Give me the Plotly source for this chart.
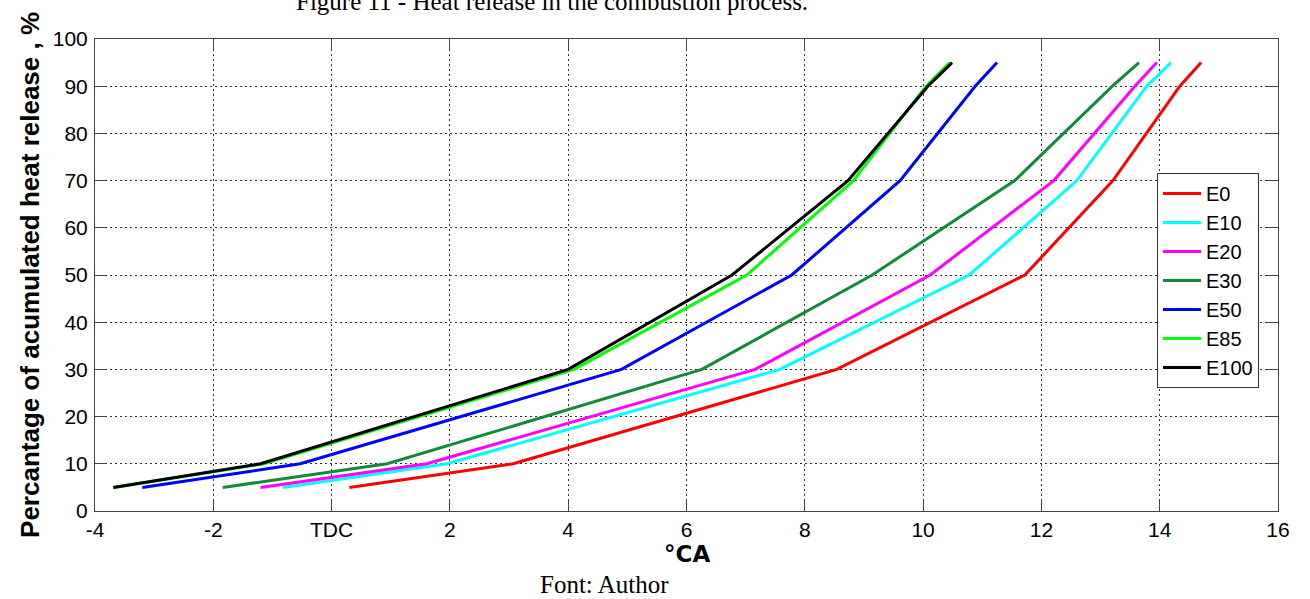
import plotly.graph_objects as go

# Accumulated heat release levels (%) and crank angle (°CA) at each level
heat_release_pct = [5, 10, 30, 50, 70, 90, 95]

e0 = [0.30, 3.07, 8.54, 11.72, 13.21, 14.34, 14.70]
e10 = [-0.82, 1.95, 7.58, 10.78, 12.60, 13.78, 14.19]
e20 = [-1.20, 1.61, 7.16, 10.12, 12.21, 13.58, 13.95]
e30 = [-1.84, 0.94, 6.26, 9.14, 11.55, 13.20, 13.65]
e50 = [-3.20, -0.53, 4.90, 7.78, 9.61, 10.88, 11.25]
e85 = [-3.69, -1.15, 4.10, 7.02, 8.82, 10.05, 10.45]
e100 = [-3.69, -1.20, 4.00, 6.77, 8.73, 10.08, 10.49]

fuel_names = ["E0", "E10", "E20", "E30", "E50", "E85", "E100"]
fuel_series = [e0, e10, e20, e30, e50, e85, e100]
fuel_colors = ["#ff0000", "#00ffff", "#ff00ff", "#138a3a", "#0000ff", "#00ff00", "#000000"]

x_tick_vals = [-4, -2, 0, 2, 4, 6, 8, 10, 12, 14, 16]
x_tick_text = ["-4", "-2", "TDC", "2", "4", "6", "8", "10", "12", "14", "16"]
y_tick_vals = [0, 10, 20, 30, 40, 50, 60, 70, 80, 90, 100]

WIDE_SANS = "DejaVu Sans, Verdana, sans-serif"
SANS = "Liberation Sans, Arial, sans-serif"
SERIF = "Liberation Serif, Times New Roman, serif"

fig = go.Figure()
for name, xs, color in zip(fuel_names, fuel_series, fuel_colors):
    fig.add_trace(go.Scatter(
        x=xs, y=heat_release_pct, mode="lines", name=name,
        line=dict(color=color, width=3),
    ))

axis_common = dict(
    showline=True, linecolor="#444444", linewidth=1, mirror="ticks",
    ticks="inside", ticklen=11, tickcolor="#444444", tickwidth=1,
    showgrid=True, gridcolor="#333333", gridwidth=1, griddash="2px,3px",
    zeroline=False,
    tickfont=dict(family=SANS, size=21, color="#000000"),
)

fig.update_xaxes(range=[-4, 16], tickvals=x_tick_vals, ticktext=x_tick_text,
                 ticklabelstandoff=0, **axis_common)
fig.update_yaxes(range=[0, 100], tickvals=y_tick_vals, ticklabelstandoff=2, **axis_common)

fig.update_layout(
    width=1310, height=599,
    margin=dict(l=95, r=32, t=39, b=88),
    paper_bgcolor="white", plot_bgcolor="white",
    showlegend=True,
    legend=dict(
        x=0.8977, y=0.716, xanchor="left", yanchor="top",
        bgcolor="white", bordercolor="#333333", borderwidth=1,
        font=dict(family=SANS, size=20, color="#000000"),
        tracegroupgap=0, itemwidth=38,
    ),
    annotations=[
        dict(text="<b>°CA</b>", xref="paper", yref="paper", x=0.5, y=-0.0585,
             xanchor="center", yanchor="top", showarrow=False,
             font=dict(family=WIDE_SANS, size=23, color="#000000")),
        dict(text="<b>Percantage of acumulated heat release , %</b>",
             xref="paper", yref="paper", x=-0.055, y=0.5, textangle=-90,
             xanchor="center", yanchor="middle", showarrow=False,
             font=dict(family=SANS, size=26, color="#000000")),
        dict(text="Font: Author", xref="paper", yref="paper", x=0.431, y=-0.155,
             xanchor="center", yanchor="middle", showarrow=False,
             font=dict(family=SERIF, size=25, color="#000000")),
        dict(text="Figure 11 - Heat release in the combustion process.",
             xref="paper", yref="paper", x=0.386, y=1.047,
             xanchor="center", yanchor="bottom", showarrow=False,
             font=dict(family=SERIF, size=25, color="#000000")),
    ],
)

fig.write_html("out.html")
